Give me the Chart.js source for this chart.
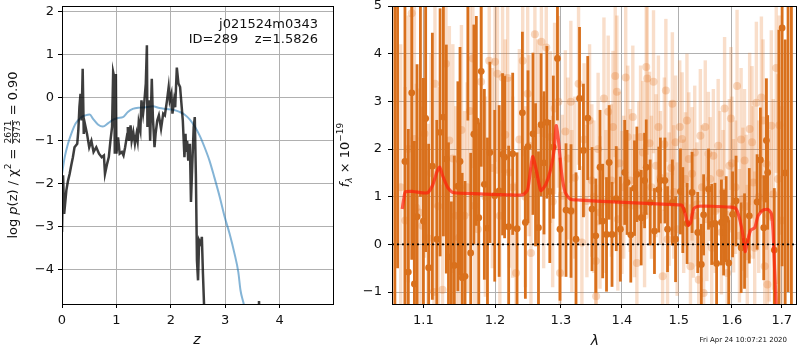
<!DOCTYPE html>
<html><head><meta charset="utf-8">
<script src="https://cdn.jsdelivr.net/npm/chart.js@4.4.1/dist/chart.umd.min.js"></script>
<style>
html,body{margin:0;padding:0;background:#fff;width:800px;height:350px;overflow:hidden}
#c1{position:absolute;left:0;top:0}
#c2{position:absolute;left:335px;top:0}
</style></head><body>
<canvas id="c1" width="335" height="350"></canvas>
<canvas id="c2" width="465" height="350"></canvas>
<script>
// ---------- left panel: log p(z) ----------
const zPz = [
 0, 0.02, 0.04, 0.08, 0.11, 0.14, 0.17, 0.20, 0.23, 0.28,
 0.30, 0.32, 0.34, 0.36, 0.38, 0.40, 0.42, 0.46, 0.50, 0.54,
 0.58, 0.63, 0.68, 0.73, 0.77, 0.79, 0.83, 0.86, 0.89, 0.92,
 0.94, 0.96, 0.97, 0.99, 1.00, 1.03, 1.06, 1.10, 1.13, 1.16,
 1.20, 1.21, 1.23, 1.26, 1.28, 1.31, 1.34, 1.37, 1.39, 1.41,
 1.44, 1.46, 1.49, 1.51, 1.54, 1.56, 1.57, 1.60, 1.62, 1.65,
 1.67, 1.70, 1.72, 1.75, 1.78, 1.82, 1.86, 1.89, 1.93, 1.96,
 1.98, 2.01, 2.03, 2.06, 2.08, 2.11, 2.14, 2.17, 2.20, 2.22,
 2.25, 2.27, 2.28, 2.30, 2.32, 2.35, 2.37, 2.39, 2.42, 2.44,
 2.46, 2.48, 2.50, 2.52, 2.55, 2.57, 2.59, 2.61, 2.63];
const logPz = [
 -3.12, -1.80, -2.70, -2.15, -1.93, -1.77, -1.57, -1.38, -1.15, -1.07,
 -0.76, -0.22, 0.09, -0.53, 0.67, -0.84, -0.60, -0.84, -1.15, -1.00,
 -1.26, -1.15, -1.30, -1.38, -1.34, -1.77, -1.53, -1.38, -1.00, -0.68,
 0.60, 0.48, -1.30, 0.55, -1.30, -0.92, -1.30, -1.26, -1.34, -1.15,
 -0.84, -0.68, -1.00, -0.64, -1.00, -0.80, -1.07, -0.84, -1.00, -0.57,
 -0.76, -0.06, -0.37, -0.14, 0.33, 1.22, -0.68, -0.06, -1.00, 0.44,
 -0.45, -1.15, -0.84, -0.53, -0.41, -0.72, -0.37, -0.41, -0.06, 0.25,
 -0.06, 0.09, -0.37, -0.06, -0.22, 0.70, 0.33, 0.25, -0.22, -0.53,
 -1.38, -0.84, -1.26, -1.00, -1.46, -1.07, -2.42, -1.69, -0.68, -0.45,
 -1.77, -3.78, -4.24, -3.31, -3.39, -3.23, -4.08, -4.80, -6.00];
const zBlip = [3.612, 3.62, 3.628];
const logPzBlip = [-4.95, -4.72, -4.95];
const zSmooth = [0, 0.05, 0.11, 0.17, 0.25, 0.36, 0.43, 0.51, 0.57, 0.66,
 0.75, 0.85, 0.94, 1.03, 1.12, 1.21, 1.30, 1.43, 1.55, 1.67,
 1.79, 1.91, 2.04, 2.16, 2.25, 2.35, 2.44, 2.53, 2.62, 2.71,
 2.80, 2.90, 2.99, 3.08, 3.17, 3.24, 3.28, 3.33, 3.36];
const logPzSmooth = [-1.77, -1.38, -1.07, -0.84, -0.60, -0.45, -0.41, -0.39, -0.49, -0.62,
 -0.67, -0.59, -0.51, -0.47, -0.45, -0.33, -0.26, -0.23, -0.22, -0.20,
 -0.24, -0.26, -0.28, -0.33, -0.39, -0.51, -0.67, -0.88, -1.15, -1.46,
 -1.85, -2.31, -2.77, -3.16, -3.62, -4.05, -4.47, -4.74, -4.90];
const zTicks = [0, 1, 2, 3, 4];
const pzTicks = [-4, -3, -2, -1, 0, 1, 2];

// ---------- right panel: spectrum ----------
const waveDark = [
 1.0625, 1.0660, 1.0756, 1.0800, 1.0845, 1.0880, 1.0915, 1.0960, 1.1000, 1.1030,
 1.1070, 1.1120, 1.1180, 1.1225, 1.1270, 1.1310, 1.1340, 1.1380, 1.1420, 1.1470,
 1.1500, 1.1530, 1.1570, 1.1610, 1.1650, 1.1695, 1.1730, 1.1765, 1.1800, 1.1845,
 1.1890, 1.1925, 1.1995, 1.2060, 1.2110, 1.2140, 1.2200, 1.2260, 1.2325, 1.2405,
 1.2450, 1.2490, 1.2565, 1.2605, 1.2650, 1.2690, 1.2735, 1.2780, 1.2825, 1.2880,
 1.2945, 1.2985, 1.3080, 1.3160, 1.3240, 1.3297, 1.3360, 1.3430, 1.3500, 1.3562,
 1.3632, 1.3676, 1.3740, 1.3784, 1.3832, 1.3903, 1.3973, 1.4047, 1.4087, 1.4151,
 1.4215, 1.4256, 1.4331, 1.4390, 1.4419, 1.4488, 1.4564, 1.4640, 1.4669, 1.4750,
 1.4797, 1.4884, 1.4942, 1.5031, 1.5074, 1.5153, 1.5245, 1.5350, 1.5417, 1.5460,
 1.5552, 1.5613, 1.5675, 1.5706, 1.5798, 1.5840, 1.5890, 1.5939, 1.6013, 1.6081,
 1.6181, 1.6248, 1.6342, 1.6497, 1.6564, 1.6631, 1.6685, 1.6711, 1.6846, 1.6940,
 1.7007, 1.7070, 1.7130, 1.7200];
const fluxDark = [
 -2.00, 6.50, 1.74, -0.58, 3.18, -0.83, 0.58, 6.00, 0.49, 2.64,
 -0.49, 1.64, 0.11, 2.35, 2.67, 1.79, -0.26, -1.60, -0.44, 1.22,
 1.74, -0.70, -0.67, 5.60, -0.18, 2.31, 2.59, 0.56, 3.63, 1.26,
 0.34, 1.93, 1.02, 1.12, 1.89, 1.83, 0.37, 1.90, 0.33, 2.76,
 0.46, 2.05, 2.32, 1.46, 0.35, 2.51, 1.71, 2.56, 1.11, 2.04,
 3.90, 0.32, 0.72, 0.70, 0.11, 3.06, 1.97, 2.65, 0.74, 0.18,
 1.62, 0.49, 0.21, 1.72, 0.21, 0.96, 0.32, 1.51, 1.30, 0.20,
 1.18, 1.47, 0.56, 1.34, 1.62, 0.88, 0.28, 1.15, 1.34, 1.34,
 0.32, 0.88, 0.11, 1.11, 0.72, 0.44, 1.09, 0.25, -0.42, 0.62,
 1.16, 0.42, 0.44, -0.40, 0.46, 0.25, 0.53, -0.39, 0.63, 0.91,
 -0.07, 0.07, 0.60, 0.89, 1.77, 0.35, 2.18, 1.51, -0.12, -2.00,
 4.54, 1.50, 6.00, -2.00];
const errDark = [
 7.0, 7.0, 3.3, 3.0, 3.5, 3.0, 3.2, 5.0, 3.0, 2.8,
 2.6, 2.8, 2.5, 2.6, 2.5, 2.4, 2.4, 2.5, 2.3, 2.2,
 2.4, 2.2, 2.0, 3.0, 2.1, 2.3, 2.2, 2.0, 2.0, 2.0,
 1.9, 1.9, 1.8, 1.8, 1.7, 1.7, 1.7, 1.7, 1.6, 1.7,
 1.6, 1.6, 1.7, 1.5, 1.6, 1.5, 1.5, 1.6, 1.5, 1.5,
 1.3, 1.5, 1.4, 1.4, 1.4, 1.5, 1.4, 1.3, 1.3, 1.2,
 1.2, 1.2, 1.2, 1.2, 1.1, 1.1, 1.1, 1.1, 1.1, 1.0,
 1.0, 1.0, 1.0, 1.0, 1.0, 0.9, 0.9, 0.9, 0.9, 0.9,
 0.9, 0.9, 0.9, 0.9, 0.9, 0.85, 0.85, 0.85, 0.85, 0.85,
 0.85, 0.85, 0.85, 0.85, 0.9, 0.9, 0.9, 0.9, 0.9, 0.95,
 0.95, 1.0, 1.0, 1.0, 1.1, 1.1, 1.3, 1.2, 1.3, 6.5,
 5.0, 2.8, 7.0, 7.5];

const waveLight = [
 1.0845, 1.0880, 1.0906, 1.0944, 1.0986, 1.1014, 1.1061, 1.1141, 1.1155, 1.1258,
 1.1305, 1.1352, 1.1484, 1.1563, 1.1681, 1.1704, 1.1751, 1.1798, 1.1915, 1.2000,
 1.2035, 1.2110, 1.2185, 1.2210, 1.2310, 1.2410, 1.2485, 1.2505, 1.2535, 1.2595,
 1.2695, 1.2770, 1.2835, 1.2900, 1.2960, 1.2985, 1.3022, 1.3070, 1.3157, 1.3173,
 1.3281, 1.3335, 1.3416, 1.3497, 1.3562, 1.3568, 1.3632, 1.3697, 1.3768, 1.3822,
 1.3849, 1.3886, 1.3914, 1.3930, 1.4000, 1.4064, 1.4099, 1.4140, 1.4186, 1.4215,
 1.4256, 1.4320, 1.4360, 1.4419, 1.4436, 1.4477, 1.4547, 1.4593, 1.4634, 1.4709,
 1.4767, 1.4797, 1.4826, 1.4884, 1.4942, 1.4971, 1.5018, 1.5061, 1.5123, 1.5184,
 1.5215, 1.5245, 1.5294, 1.5337, 1.5368, 1.5399, 1.5460, 1.5491, 1.5521, 1.5583,
 1.5613, 1.5644, 1.5736, 1.5798, 1.5859, 1.5908, 1.5951, 1.5982, 1.6034, 1.6101,
 1.6148, 1.6215, 1.6248, 1.6302, 1.6349, 1.6396, 1.6450, 1.6483, 1.6584, 1.6617,
 1.6651, 1.6685, 1.6705, 1.6785, 1.6826, 1.6886, 1.6919,
 1.0700, 1.0760, 1.0800, 1.1100, 1.1200, 1.1400, 1.1440, 1.1520, 1.1600, 1.1640,
 1.1860, 1.1960, 1.2070, 1.2150, 1.2260, 1.2360, 1.2450, 1.2640, 1.2730, 1.2870,
 1.3110, 1.3220, 1.3370, 1.3460, 1.3530, 1.3600, 1.3730, 1.3960, 1.4030, 1.4290,
 1.4390, 1.4510, 1.4670, 1.4740, 1.4860, 1.4910, 1.5090, 1.5150, 1.5270, 1.5430,
 1.5550, 1.5680, 1.5770, 1.5830, 1.6000, 1.6070, 1.6180, 1.6280, 1.6420, 1.6530,
 1.6740, 1.6950, 1.7000];
const fluxLight = [
 4.85, 2.21, 0.77, 0.67, 0.39, 2.32, 0.13, -1.00, 3.37, -0.95,
 3.79, 2.18, 0.14, 0.60, 3.90, 0.81, 0.32, 3.41, 3.85, 3.83,
 3.58, 3.50, 3.49, 1.51, -0.60, 3.85, 3.16, 2.07, -0.18, 4.41,
 4.25, 4.13, 2.25, 2.85, 2.99, -0.60, 1.02, 2.37, 2.99, 0.70,
 3.37, 0.04, 0.91, 1.34, -0.35, -1.09, 0.67, 3.06, 2.78, 1.34,
 2.46, 3.53, 3.20, 0.53, 0.88, 3.50, 2.25, 1.34, 2.67, 0.81,
 -0.39, 2.25, 1.93, 3.72, 3.48, 2.12, 3.41, 1.65, 2.46, -0.67,
 3.23, 0.11, 0.95, 2.95, 2.14, 0.32, 2.46, 2.21, 1.37, 1.79,
 -0.46, 1.48, 1.93, 0.84, -0.74, 2.28, -1.02, 2.46, 0.53, 1.37,
 -0.07, 1.86, 2.07, 0.25, 2.85, -0.60, 1.65, 2.64, 0.81, 3.32,
 0.18, 0.95, 1.76, -0.25, 2.42, 2.14, -0.07, 2.97, 3.08, 2.60,
 -0.46, 1.69, -0.84, 2.49, 1.05, 3.70, 1.37,
 1.20, 0.50, 2.00, 1.50, 0.80, 1.80, 0.60, 2.40, 1.20, 2.80,
 1.00, 1.60, 0.60, 2.30, 1.20, 2.20, 1.00, 2.40, 1.30, 0.90,
 1.80, 1.40, 2.20, 2.60, 1.00, 2.00, 0.90, 1.70, 1.20, 1.50,
 0.60, 1.20, 1.40, 2.10, 1.60, 1.10, 0.80, 2.60, 0.60, 1.20,
 1.90, 0.70, 1.50, 1.10, 1.70, 1.20, 2.20, 0.80, 1.30, 1.00,
 0.60, 2.50, 0.50];
const errLight = [
 2.8, 2.8, 2.6, 2.6, 2.5, 2.6, 2.4, 2.4, 2.6, 2.2,
 2.5, 2.4, 2.2, 2.2, 2.3, 2.1, 2.1, 2.2, 2.2, 2.1,
 2.1, 2.0, 2.0, 2.0, 1.9, 2.0, 1.9, 1.9, 1.8, 2.0,
 2.0, 1.9, 1.8, 1.8, 1.8, 1.7, 1.7, 1.7, 1.7, 1.7,
 1.7, 1.6, 1.6, 1.6, 1.6, 1.6, 1.6, 1.7, 1.6, 1.6,
 1.6, 1.7, 1.6, 1.5, 1.5, 1.6, 1.5, 1.5, 1.5, 1.5,
 1.5, 1.5, 1.5, 1.6, 1.6, 1.5, 1.5, 1.5, 1.5, 1.4,
 1.5, 1.4, 1.4, 1.5, 1.4, 1.4, 1.4, 1.4, 1.4, 1.4,
 1.3, 1.4, 1.4, 1.3, 1.3, 1.4, 1.3, 1.4, 1.3, 1.3,
 1.3, 1.4, 1.4, 1.3, 1.5, 1.3, 1.4, 1.5, 1.4, 1.6,
 1.4, 1.5, 1.5, 1.5, 1.6, 1.6, 1.6, 1.7, 1.7, 1.7,
 1.7, 1.8, 1.8, 2.0, 2.0, 2.2, 2.2,
 3.0, 2.8, 2.8, 2.5, 2.5, 2.4, 2.3, 2.2, 2.2, 2.2,
 2.1, 2.1, 2.0, 2.0, 1.9, 1.9, 1.9, 1.9, 1.8, 1.8,
 1.7, 1.7, 1.6, 1.6, 1.6, 1.6, 1.5, 1.5, 1.5, 1.5,
 1.5, 1.5, 1.4, 1.4, 1.4, 1.4, 1.4, 1.4, 1.3, 1.3,
 1.3, 1.3, 1.3, 1.3, 1.4, 1.4, 1.5, 1.5, 1.6, 1.6,
 1.8, 2.3, 2.4];

const waveModel = [1.072, 1.074, 1.076, 1.086, 1.105, 1.112, 1.118, 1.122, 1.126, 1.133,
 1.140, 1.161, 1.194, 1.2185, 1.241, 1.2485, 1.256, 1.2625, 1.2685, 1.276,
 1.2835, 1.2895, 1.2925, 1.296, 1.301, 1.3065, 1.3146, 1.3308, 1.385, 1.4419,
 1.500, 1.5061, 1.5123, 1.5172, 1.5215, 1.5276, 1.5368, 1.5613, 1.598, 1.6081,
 1.6148, 1.6215, 1.6262, 1.6315, 1.6369, 1.645, 1.6517, 1.6617, 1.6718, 1.6785,
 1.6819, 1.6852, 1.6886];
const fluxModel = [0.74, 0.95, 1.10, 1.11, 1.08, 1.23, 1.51, 1.62, 1.44, 1.19,
 1.09, 1.07, 1.05, 1.04, 1.04, 1.15, 1.84, 1.50, 1.13, 1.25,
 1.55, 2.00, 2.49, 2.20, 1.50, 1.10, 0.95, 0.93, 0.89, 0.86,
 0.83, 0.82, 0.62, 0.40, 0.45, 0.75, 0.80, 0.80, 0.78, 0.75,
 0.55, 0.20, -0.15, 0.10, 0.30, 0.35, 0.60, 0.72, 0.73, 0.65,
 0.30, -0.50, -1.30];
const waveTicks = [1.1, 1.2, 1.3, 1.4, 1.5, 1.6, 1.7];
const fluxTicks = [-1, 0, 1, 2, 3, 4, 5];

// ---------- helpers ----------
const FONT = "'DejaVu Sans', sans-serif";
const TXT = '#111';
const fmtNum = v => (v < 0 ? '\u2212' + Math.abs(v) : String(v));
const pts = (xs, ys) => xs.map((x, i) => ({x: x, y: ys[i]}));
const bars = (xs, ys, es) => xs.map((x, i) => ({x: x, y: [ys[i] - es[i], ys[i] + es[i]]}));

function axisOpts(extra) {
  return Object.assign({
    offset: false,
    grid: {color: '#b0b0b0', lineWidth: 1, tickColor: '#000', tickLength: 4, drawTicks: true, offset: false},
    border: {display: true, color: '#000', width: 1},
  }, extra);
}

function drawParts(ctx, parts, cx, cy, rot) {
  ctx.save();
  ctx.translate(cx, cy);
  ctx.rotate(rot);
  ctx.fillStyle = TXT;
  ctx.textBaseline = 'alphabetic';
  ctx.textAlign = 'left';
  let total = 0;
  parts.forEach(p => {
    ctx.font = p.font;
    if (p.frac) {
      p.w = Math.max(ctx.measureText(p.num).width, ctx.measureText(p.den).width) + 2;
    } else {
      p.w = ctx.measureText(p.t).width;
    }
    total += p.w;
  });
  let x = -total / 2;
  parts.forEach(p => {
    ctx.font = p.font;
    if (p.frac) {
      const wn = ctx.measureText(p.num).width, wd = ctx.measureText(p.den).width;
      ctx.fillText(p.num, x + (p.w - wn) / 2, -6);
      ctx.fillText(p.den, x + (p.w - wd) / 2, 3);
      ctx.fillRect(x + 0.5, -4.9, p.w - 1, 0.8);
    } else {
      ctx.fillText(p.t, x, p.dy || 0);
    }
    x += p.w;
  });
  ctx.restore();
}

function frame(chart) {
  const a = chart.chartArea, ctx = chart.ctx;
  ctx.save();
  ctx.strokeStyle = '#000';
  ctx.lineWidth = 1;
  ctx.strokeRect(Math.round(a.left) + 0.5, Math.round(a.top) + 0.5, Math.round(a.right - a.left), Math.round(a.bottom - a.top));
  ctx.restore();
}

// ---------- left chart ----------
const leftDeco = {
  id: 'leftDeco',
  afterDraw(chart) {
    const ctx = chart.ctx;
    frame(chart);
    ctx.save();
    ctx.fillStyle = TXT;
    ctx.font = "13px " + FONT;
    ctx.textAlign = 'right';
    ctx.textBaseline = 'alphabetic';
    ctx.fillText('j021524m0343', 318, 28);
    ctx.fillText('ID=289    z=1.5826', 318, 43);
    ctx.textAlign = 'center';
    ctx.font = "italic 14px " + FONT;
    ctx.fillText('z', 197, 344);
    ctx.restore();
    const N = "13px " + FONT, I = "italic 13px " + FONT, S = "9px " + FONT;
    drawParts(ctx, [
      {t: 'log ', font: N},
      {t: 'p', font: I},
      {t: '(z) / \u03C7', font: N},
      {t: '2', font: S, dy: -6},
      {t: ' = ', font: N},
      {frac: true, num: '2671', den: '2973', font: S},
      {t: ' = 0.90', font: N}
    ], 17, 155, -Math.PI / 2);
  }
};

new Chart(document.getElementById('c1'), {
  type: 'line',
  data: {
    datasets: [
      {data: pts(zPz, logPz), borderColor: 'rgba(0,0,0,0.76)', borderWidth: 2.5, pointRadius: 0, tension: 0, fill: false, clip: 0},
      {data: pts(zBlip, logPzBlip), borderColor: 'rgba(0,0,0,0.76)', borderWidth: 2.5, pointRadius: 0, tension: 0, fill: false, clip: 0},
      {data: pts(zSmooth, logPzSmooth), borderColor: 'rgba(31,119,180,0.55)', borderWidth: 2, pointRadius: 0, tension: 0.3, cubicInterpolationMode: 'monotone', fill: false, clip: 0}
    ]
  },
  options: {
    responsive: false, animation: false, events: [],
    layout: {padding: {top: 6, right: 2, left: 0, bottom: 0}},
    plugins: {legend: {display: false}, tooltip: {enabled: false}},
    scales: {
      x: axisOpts({type: 'linear', min: 0, max: 4.98,
        afterBuildTicks: a => { a.ticks = zTicks.map(v => ({value: v})); },
        ticks: {callback: v => fmtNum(v), font: {family: FONT, size: 13}, color: TXT, padding: 5, maxRotation: 0, autoSkip: false},
        afterFit: s => { s.height = 46; s.paddingLeft = 0; s.paddingRight = 0; }}),
      y: axisOpts({type: 'linear', min: -4.79, max: 2.13,
        afterBuildTicks: a => { a.ticks = pzTicks.map(v => ({value: v})); },
        ticks: {callback: v => fmtNum(v), font: {family: FONT, size: 13}, color: TXT, padding: 4, autoSkip: false},
        afterFit: s => { s.width = 62; s.paddingTop = 0; s.paddingBottom = 0; }})
    }
  },
  plugins: [leftDeco]
});

// ---------- right chart ----------
const rightDeco = {
  id: 'rightDeco',
  afterDraw(chart) {
    const ctx = chart.ctx;
    frame(chart);
    ctx.save();
    ctx.fillStyle = TXT;
    ctx.textAlign = 'center';
    ctx.textBaseline = 'alphabetic';
    ctx.font = "italic 14px " + FONT;
    ctx.fillText('\u03BB', 260, 345);
    ctx.font = "7px " + FONT;
    ctx.textAlign = 'right';
    ctx.fillText('Fri Apr 24 10:07:21 2020', 452, 342);
    ctx.restore();
    const N = "13px " + FONT, I = "italic 13px " + FONT, S = "9px " + FONT, SI = "italic 9px " + FONT;
    drawParts(ctx, [
      {t: 'f', font: I},
      {t: '\u03BB', font: SI, dy: 3},
      {t: ' \u00D7 10', font: N},
      {t: '\u221219', font: S, dy: -6}
    ], 14, 155, -Math.PI / 2);
  }
};

new Chart(document.getElementById('c2'), {
  type: 'bar',
  data: {
    datasets: [
      {type: 'line', data: [{x: 1.0588, y: 0}, {x: 1.7296, y: 0}], borderColor: '#000', borderWidth: 1.6, borderDash: [2, 3], pointRadius: 0, clip: 0},
      {type: 'line', data: pts(waveModel, fluxModel), borderColor: 'rgba(255,30,10,0.7)', borderWidth: 3.2, pointRadius: 0, tension: 0.2, fill: false, clip: 0},
      {type: 'scatter', data: pts(waveDark, fluxDark), pointRadius: 3.4, pointBackgroundColor: '#d9701c', pointBorderWidth: 0, clip: 0},
      {type: 'bar', data: bars(waveDark, fluxDark, errDark), backgroundColor: '#d9701c', borderWidth: 0, barThickness: 2.8, inflateAmount: 0, grouped: false, clip: 0},
      {type: 'scatter', data: pts(waveLight, fluxLight), pointRadius: 4, pointBackgroundColor: 'rgba(230,125,50,0.3)', pointBorderWidth: 0, clip: 0},
      {type: 'bar', data: bars(waveLight, fluxLight, errLight), backgroundColor: 'rgba(232,125,45,0.25)', borderWidth: 0, barThickness: 3.4, inflateAmount: 0, grouped: false, clip: 0}
    ]
  },
  options: {
    responsive: false, animation: false, events: [],
    layout: {padding: {top: 6, right: 2, left: 0, bottom: 0}},
    plugins: {legend: {display: false}, tooltip: {enabled: false}},
    scales: {
      x: axisOpts({type: 'logarithmic', min: 1.0588, max: 1.7296,
        afterBuildTicks: a => { a.ticks = waveTicks.map(v => ({value: v})); },
        ticks: {callback: v => Number(v).toFixed(1), font: {family: FONT, size: 13}, color: TXT, padding: 5, maxRotation: 0, autoSkip: false},
        afterFit: s => { s.height = 46; s.paddingLeft = 0; s.paddingRight = 0; }}),
      y: axisOpts({type: 'linear', min: -1.25, max: 5,
        afterBuildTicks: a => { a.ticks = fluxTicks.map(v => ({value: v})); },
        ticks: {callback: v => fmtNum(v), font: {family: FONT, size: 13}, color: TXT, padding: 6, autoSkip: false},
        afterFit: s => { s.width = 57; s.paddingTop = 0; s.paddingBottom = 0; }})
    }
  },
  plugins: [rightDeco]
});
</script>
</body></html>
